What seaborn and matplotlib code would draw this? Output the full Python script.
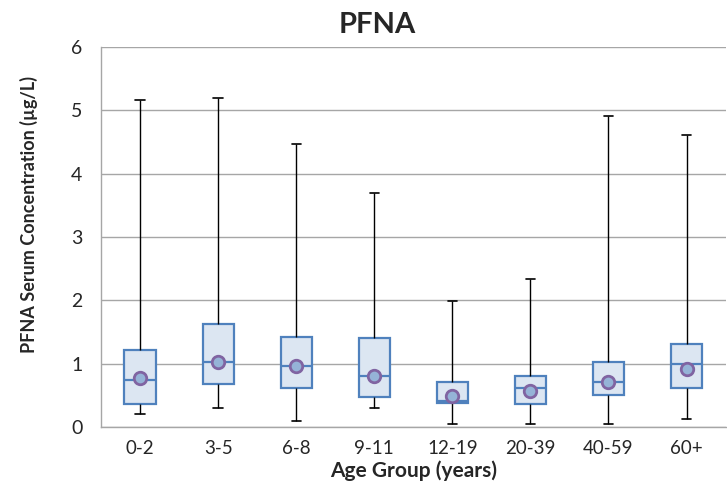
import numpy as np
import pandas as pd
import matplotlib
matplotlib.use("Agg")
import matplotlib.pyplot as plt
import seaborn as sns

# Box statistics (ug/L)
age_groups = ["0-2", "3-5", "6-8", "9-11", "12-19", "20-39", "40-59", "60+"]
mins = [0.20, 0.30, 0.09, 0.30, 0.05, 0.05, 0.05, 0.12]
q1s = [0.37, 0.68, 0.62, 0.47, 0.38, 0.36, 0.50, 0.61]
medians = [0.74, 1.03, 0.97, 0.80, 0.41, 0.61, 0.71, 1.00]
q3s = [1.21, 1.63, 1.42, 1.41, 0.71, 0.81, 1.02, 1.31]
maxs = [5.16, 5.19, 4.46, 3.70, 1.99, 2.34, 4.90, 4.60]
means = [0.77, 1.02, 0.96, 0.80, 0.49, 0.57, 0.71, 0.92]

# five points per group -> percentiles 0/25/50/75/100 are exactly the stats
rows = []
for g, a, b, c, d, e in zip(age_groups, mins, q1s, medians, q3s, maxs):
    for v in (a, b, c, d, e):
        rows.append({"group": g, "value": v})
box_df = pd.DataFrame(rows)
mean_df = pd.DataFrame({"group": age_groups, "value": means})

sns.set_style("white")
plt.rcParams["font.family"] = ["Lato", "DejaVu Sans"]

fig = plt.figure(figsize=(7.27, 4.92), dpi=100)
ax = fig.add_axes([0.139, 0.132, 0.859, 0.773])

edge_blue = "#4F81BD"
sns.boxplot(data=box_df, x="group", y="value", order=age_groups, ax=ax,
            whis=(0, 100), width=0.4, saturation=1, color="#DCE6F2",
            linecolor=edge_blue, linewidth=1.6, showfliers=False,
            whiskerprops={"color": "black", "linewidth": 1},
            capprops={"color": "black", "linewidth": 1.2},
            medianprops={"color": edge_blue, "linewidth": 1.6},
            boxprops={"edgecolor": edge_blue, "facecolor": "#DCE6F2", "linewidth": 1.6},
            zorder=3)

# narrow the whisker caps (Excel style)
for ln in ax.lines:
    xd, yd = np.asarray(ln.get_xdata(), float), np.asarray(ln.get_ydata(), float)
    if len(xd) == 2 and yd[0] == yd[1] and matplotlib.colors.same_color(ln.get_color(), "black"):
        c = xd.mean()
        ln.set_xdata([c - 0.06, c + 0.06])

sns.stripplot(data=mean_df, x="group", y="value", order=age_groups, ax=ax,
              jitter=False, size=9, color="#95B3D7", edgecolor="#8064A2",
              linewidth=2, zorder=5)

ax.set_ylim(0, 6)
ax.set_xlim(-0.5, len(age_groups) - 0.5)
ax.set_yticks(range(0, 7))
ax.yaxis.grid(True, color="#A6A6A6", linewidth=1)
ax.set_axisbelow(True)

for s in ["top", "right"]:
    ax.spines[s].set_visible(False)
for s in ["left", "bottom"]:
    ax.spines[s].set_color("#A6A6A6")
    ax.spines[s].set_linewidth(1)

ax.set_xticks(np.arange(len(age_groups)))
ax.set_xticklabels(age_groups)
ax.set_xticks(np.arange(-0.5, len(age_groups), 1), minor=True)
ax.tick_params(axis="x", which="major", length=0, pad=9, labelsize=13.5, labelcolor="#262626")
ax.tick_params(axis="x", which="minor", length=6, color="#A6A6A6", width=1, direction="out")
ax.tick_params(axis="y", length=4, color="#A6A6A6", width=1, labelsize=14, labelcolor="#262626", pad=9.5)

ax.set_xlabel("Age Group (years)", fontsize=15, fontweight="bold", labelpad=3)
ax.set_ylabel("PFNA Serum Concentration (µg/L)", fontsize=13, fontweight="bold")
ax.yaxis.set_label_coords(-0.101, 0.56)
ax.set_title("PFNA", fontsize=21, fontweight="bold", x=0.443, pad=10)

fig.savefig("out.png", dpi=100)
